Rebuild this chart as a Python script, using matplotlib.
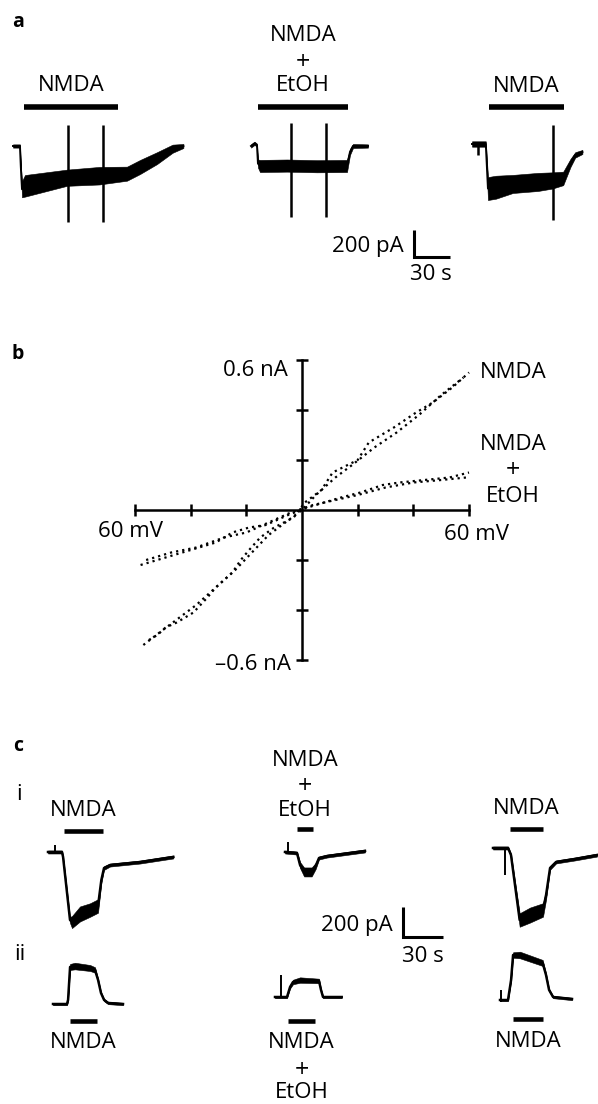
import numpy as np
import matplotlib
matplotlib.use("Agg")
import matplotlib.pyplot as plt

plt.rcParams['font.family'] = ['Open Sans', 'DejaVu Sans']

W, H = 598, 1104

# ---- panel a: whole-cell currents (t in s, I in pA, relative to baseline)
a1_t = [0, 5.8, 6.5, 7.5, 10, 45, 72, 95, 106, 120, 133, 142]
a1_i = [0, 0, -150, -320, -295, -235, -220, -205, -155, -90, -20, 0]
a1_noise = [12, 12, 12, 60, 80, 60, 65, 52, 52, 44, 30, 15]
a1_spike_t = [46, 75]
a1_spike_top = [155, 155]
a1_spike_bot = [-565, -565]

a2_t = [0, 3, 5, 5.8, 7.5, 30, 55, 80, 82.5, 85, 97.5]
a2_i = [0, 20, 5, -130, -148, -145, -150, -148, -44, 0, 0]
a2_noise = [12, 12, 12, 30, 45, 45, 45, 45, 22, 15, 12]
a2_spike_t = [33, 62.5]
a2_spike_top = [170, 170]
a2_spike_bot = [-526, -526]

a3_t = [0, 5, 11.5, 13.3, 20, 34, 55, 67, 76, 82, 86, 92]
a3_i = [0, 0, 0, -330, -320, -296, -281, -270, -255, -141, -81, -59]
a3_noise = [20, 20, 20, 85, 85, 67, 67, 60, 50, 30, 20, 15]
a3_spike_t = [5, 67.5]
a3_spike_top = [0, 141]
a3_spike_bot = [-80, -563]

# drug application bars (start s, end s, level pA)
a_bars = [(9.2, 87.5, 290), (5.8, 80.8, 289), (14.2, 76.7, 274)]

# ---- panel b: I-V relations (mV, nA), two ramps each
nmda_v1 = [-55, -52, -49, -45, -39, -34, -31, -25, -22, -19, -15, -10, -3, 1, 7, 11, 20, 24, 33, 41, 47, 54, 60]
nmda_i1 = [-0.52, -0.50, -0.47, -0.45, -0.41, -0.35, -0.31, -0.25, -0.20, -0.16, -0.11, -0.07, -0.03, 0.03, 0.08, 0.15, 0.20, 0.27, 0.33, 0.39, 0.43, 0.49, 0.55]
nmda_v2 = [-57, -50, -44, -38, -30, -24, -18, -12, -6, 0, 5, 12, 18, 26, 34, 42, 50, 58]
nmda_i2 = [-0.54, -0.48, -0.43, -0.38, -0.30, -0.24, -0.17, -0.10, -0.05, 0.00, 0.06, 0.13, 0.18, 0.25, 0.31, 0.38, 0.46, 0.53]

etoh_v1 = [-58, -49, -43, -37, -31, -25, -19, -13, -5, 2, 8, 14, 21, 29, 35, 44, 53, 60]
etoh_i1 = [-0.22, -0.19, -0.17, -0.15, -0.13, -0.09, -0.07, -0.06, -0.02, 0.01, 0.03, 0.05, 0.07, 0.10, 0.11, 0.12, 0.13, 0.15]
etoh_v2 = [-56, -47, -38, -28, -20, -12, -4, 4, 12, 20, 30, 40, 50, 59]
etoh_i2 = [-0.20, -0.17, -0.15, -0.11, -0.09, -0.05, -0.01, 0.02, 0.04, 0.06, 0.09, 0.11, 0.12, 0.13]

v_ticks = [-60, -40, -20, 20, 40, 60]
i_ticks = [-0.6, -0.4, -0.2, 0.2, 0.4, 0.6]

# ---- panel c: i inward currents, ii outward currents
ci1_t = [0, 10.5, 11.3, 16.5, 18, 24, 31.5, 37.5, 40, 42, 46.5, 69, 94]
ci1_i = [0, 0, -33, -453, -467, -413, -387, -360, -187, -107, -87, -67, -33]
ci1_noise = [10, 10, 10, 20, 40, 50, 45, 45, 20, 12, 10, 10, 10]

ci2_t = [0, 9, 11.3, 14.3, 20, 23, 25.5, 31.5, 60]
ci2_i = [0, -7, -87, -133, -133, -93, -40, -27, 7]
ci2_noise = [10, 10, 20, 30, 30, 20, 10, 10, 10]

ci3_t = [0, 11.3, 13.5, 20, 27.8, 37.5, 39.8, 42.8, 47.3, 61.5, 78]
ci3_i = [0, 0, -47, -480, -447, -413, -313, -133, -93, -73, -47]
ci3_noise = [10, 10, 10, 45, 50, 45, 30, 12, 10, 10, 10]

cii1_t = [0, 10.5, 11.3, 12.8, 16.5, 27.8, 31.5, 33.8, 36, 38.3, 41.3, 52.5]
cii1_i = [0, 0, 27, 247, 253, 240, 227, 160, 73, 27, 7, 0]
cii1_noise = [8, 8, 8, 20, 22, 20, 18, 10, 8, 8, 8, 8]

cii2_t = [0, 9, 11.3, 13.5, 18.8, 33, 34.5, 36, 50]
cii2_i = [0, 0, 67, 100, 113, 107, 47, 0, 0]
cii2_noise = [8, 8, 10, 15, 18, 15, 8, 8, 8]

cii3_t = [0, 6, 8.3, 9.8, 15, 32, 34.5, 36.8, 39.8, 54]
cii3_i = [0, 0, 133, 300, 300, 247, 167, 67, 20, 7]
cii3_noise = [8, 8, 10, 18, 22, 20, 12, 8, 8, 8]

c_blip_t = [5.3, 2.2, 9, None, 4.5, 1]
c_blip_top = [47, 67, 0, None, 147, 67]
c_blip_bot = [0, 0, -180, None, 0, -10]

ci_bars = [(12, 41.3, 140), (9, 21, 153), (12.8, 37.5, 127)]
cii_bars = [(12.8, 33, -113), (9.8, 30, -160), (9.8, 32.3, -127)]

FS = 16
FS_PLUS = 18

fig = plt.figure(figsize=(W / 100, H / 100), dpi=100)


def ftext(x, y, s, **kw):
    kw.setdefault('ha', 'center')
    kw.setdefault('va', 'center')
    kw.setdefault('fontsize', FS)
    fig.text(x / W, 1 - y / H, s, **kw)


def trace_axes(x0, y0, px_s, px_pa, t_lo=-20, t_hi=160, i_lo=-700, i_hi=700):
    # axes whose origin (t=0, I=0) sits at figure pixel (x0, y0)
    left = x0 + t_lo * px_s
    width = (t_hi - t_lo) * px_s
    top = y0 - i_hi * px_pa
    height = (i_hi - i_lo) * px_pa
    ax = fig.add_axes([left / W, 1 - (top + height) / H, width / W, height / H])
    ax.set_xlim(t_lo, t_hi)
    ax.set_ylim(i_lo, i_hi)
    ax.axis('off')
    return ax


def draw_trace(ax, t, i, noise, lw=1.4):
    t = np.asarray(t, float)
    i = np.asarray(i, float)
    noise = np.asarray(noise, float)
    ax.fill_between(t, i - noise, i + noise, color='k', lw=0.4, clip_on=False)
    ax.plot(t, i, color='k', lw=lw, clip_on=False, solid_joinstyle='round')


def drug_bar(ax, bar, lines, offsets, lw=4, sizes=None):
    t0, t1, level = bar
    ax.plot([t0, t1], [level, level], color='k', lw=lw, solid_capstyle='butt', clip_on=False)
    if sizes is None:
        sizes = [FS] * len(lines)
    for txt, off, sz in zip(lines, offsets, sizes):
        ax.annotate(txt, xy=((t0 + t1) / 2, level), xytext=(0, off), textcoords='offset pixels',
                    ha='center', va='center', fontsize=sz, annotation_clip=False)


# ---------------- panel a
ftext(18, 22, 'a', fontweight='bold', fontsize=14)
pa_s, pa_pa = 36 / 30, 27 / 200

ax = trace_axes(13, 146, pa_s, pa_pa)
draw_trace(ax, a1_t, a1_i, a1_noise)
ax.vlines(a1_spike_t, a1_spike_bot, a1_spike_top, color='k', lw=1.8, clip_on=False)
drug_bar(ax, a_bars[0], ['NMDA'], [21])

ax = trace_axes(251, 146, pa_s, pa_pa)
draw_trace(ax, a2_t, a2_i, a2_noise)
ax.vlines(a2_spike_t, a2_spike_bot, a2_spike_top, color='k', lw=1.8, clip_on=False)
drug_bar(ax, a_bars[1], ['NMDA', '+', 'EtOH'], [71, 44, 21], sizes=[FS, FS_PLUS, FS])

ax = trace_axes(472, 144, pa_s, pa_pa)
draw_trace(ax, a3_t, a3_i, a3_noise)
ax.vlines(a3_spike_t, a3_spike_bot, a3_spike_top, color='k', lw=1.8, clip_on=False)
drug_bar(ax, a_bars[2], ['NMDA'], [21])

ax = trace_axes(414, 257, pa_s, pa_pa)
ax.plot([0, 0, 30], [200, 0, 0], color='k', lw=2.2, solid_capstyle='butt',
        solid_joinstyle='miter', clip_on=False)
ftext(404, 247, '200 pA', ha='right')
ftext(431, 274, '30 s')

# ---------------- panel b
ftext(18, 354, 'b', fontweight='bold', fontsize=14)
px_mv = 334 / 120
px_na = 250
x_lo, x_hi, y_lo, y_hi = -64, 64, -0.72, 0.72
bx0, by0 = 302, 510
left = bx0 + x_lo * px_mv
top = by0 - y_hi * px_na
axb = fig.add_axes([left / W, 1 - (top + (y_hi - y_lo) * px_na) / H,
                    (x_hi - x_lo) * px_mv / W, (y_hi - y_lo) * px_na / H])
axb.set_xlim(x_lo, x_hi)
axb.set_ylim(y_lo, y_hi)
axb.patch.set_visible(False)
for side in ['top', 'right']:
    axb.spines[side].set_visible(False)
axb.spines['left'].set_position(('data', 0))
axb.spines['bottom'].set_position(('data', 0))
axb.spines['left'].set_bounds(-0.6, 0.6)
axb.spines['bottom'].set_bounds(-60, 60)
for side in ['left', 'bottom']:
    axb.spines[side].set_linewidth(1.8)
axb.set_xticks(v_ticks)
axb.set_yticks(i_ticks)
axb.tick_params(direction='inout', length=8.5, width=1.8, labelbottom=False, labelleft=False)

dot = dict(color='k', lw=1.6, linestyle=(0, (1, 1.8)), dash_capstyle='butt')
axb.plot(nmda_v1, nmda_i1, **dot)
axb.plot(nmda_v2, nmda_i2, **dot)
axb.plot(etoh_v1, etoh_i1, **dot)
axb.plot(etoh_v2, etoh_i2, **dot)

ftext(288, 370, '0.6 nA', ha='right')
ftext(291, 665, '–0.6 nA', ha='right')
ftext(131, 532, '60 mV')
ftext(476, 535, '60 mV')
ftext(513, 373, 'NMDA')
ftext(513, 445, 'NMDA')
ftext(513, 471, '+', fontsize=FS_PLUS)
ftext(513, 496, 'EtOH')

# ---------------- panel c
ftext(18, 746, 'c', fontweight='bold', fontsize=14)
ftext(19, 795, 'i')
ftext(20, 955, 'ii')
pc_s, pc_pa = 40 / 30, 30 / 200

ci_traces = [(48, 852, ci1_t, ci1_i, ci1_noise),
             (285, 852, ci2_t, ci2_i, ci2_noise),
             (493, 848, ci3_t, ci3_i, ci3_noise)]
ci_labels = [(['NMDA'], [20], [FS]),
             (['NMDA', '+', 'EtOH'], [69, 43, 19], [FS, FS_PLUS, FS]),
             (['NMDA'], [20], [FS])]
for k, (x0, y0, t, i, nz) in enumerate(ci_traces):
    ax = trace_axes(x0, y0, pc_s, pc_pa)
    draw_trace(ax, t, i, nz, lw=1.8)
    if c_blip_t[k] is not None:
        ax.vlines([c_blip_t[k]], [c_blip_bot[k]], [c_blip_top[k]], color='k', lw=1.4, clip_on=False)
    lines, offs, sizes = ci_labels[k]
    drug_bar(ax, ci_bars[k], lines, offs, lw=3.3, sizes=sizes)

cii_traces = [(53, 1004, cii1_t, cii1_i, cii1_noise),
              (275, 997, cii2_t, cii2_i, cii2_noise),
              (500, 1000, cii3_t, cii3_i, cii3_noise)]
cii_labels = [(['NMDA'], [-22], [FS]),
              (['NMDA', '+', 'EtOH'], [-22, -50, -71], [FS, FS_PLUS, FS]),
              (['NMDA'], [-22], [FS])]
for k, (x0, y0, t, i, nz) in enumerate(cii_traces):
    ax = trace_axes(x0, y0, pc_s, pc_pa)
    draw_trace(ax, t, i, nz, lw=1.8)
    if c_blip_t[k + 3] is not None:
        ax.vlines([c_blip_t[k + 3]], [c_blip_bot[k + 3]], [c_blip_top[k + 3]], color='k', lw=1.4, clip_on=False)
    lines, offs, sizes = cii_labels[k]
    drug_bar(ax, cii_bars[k], lines, offs, lw=3.3, sizes=sizes)

ax = trace_axes(403, 937, pc_s, pc_pa)
ax.plot([0, 0, 30], [200, 0, 0], color='k', lw=2.2, solid_capstyle='butt',
        solid_joinstyle='miter', clip_on=False)
ftext(393, 926, '200 pA', ha='right')
ftext(423, 957, '30 s')

fig.savefig('out.png', dpi=100)
